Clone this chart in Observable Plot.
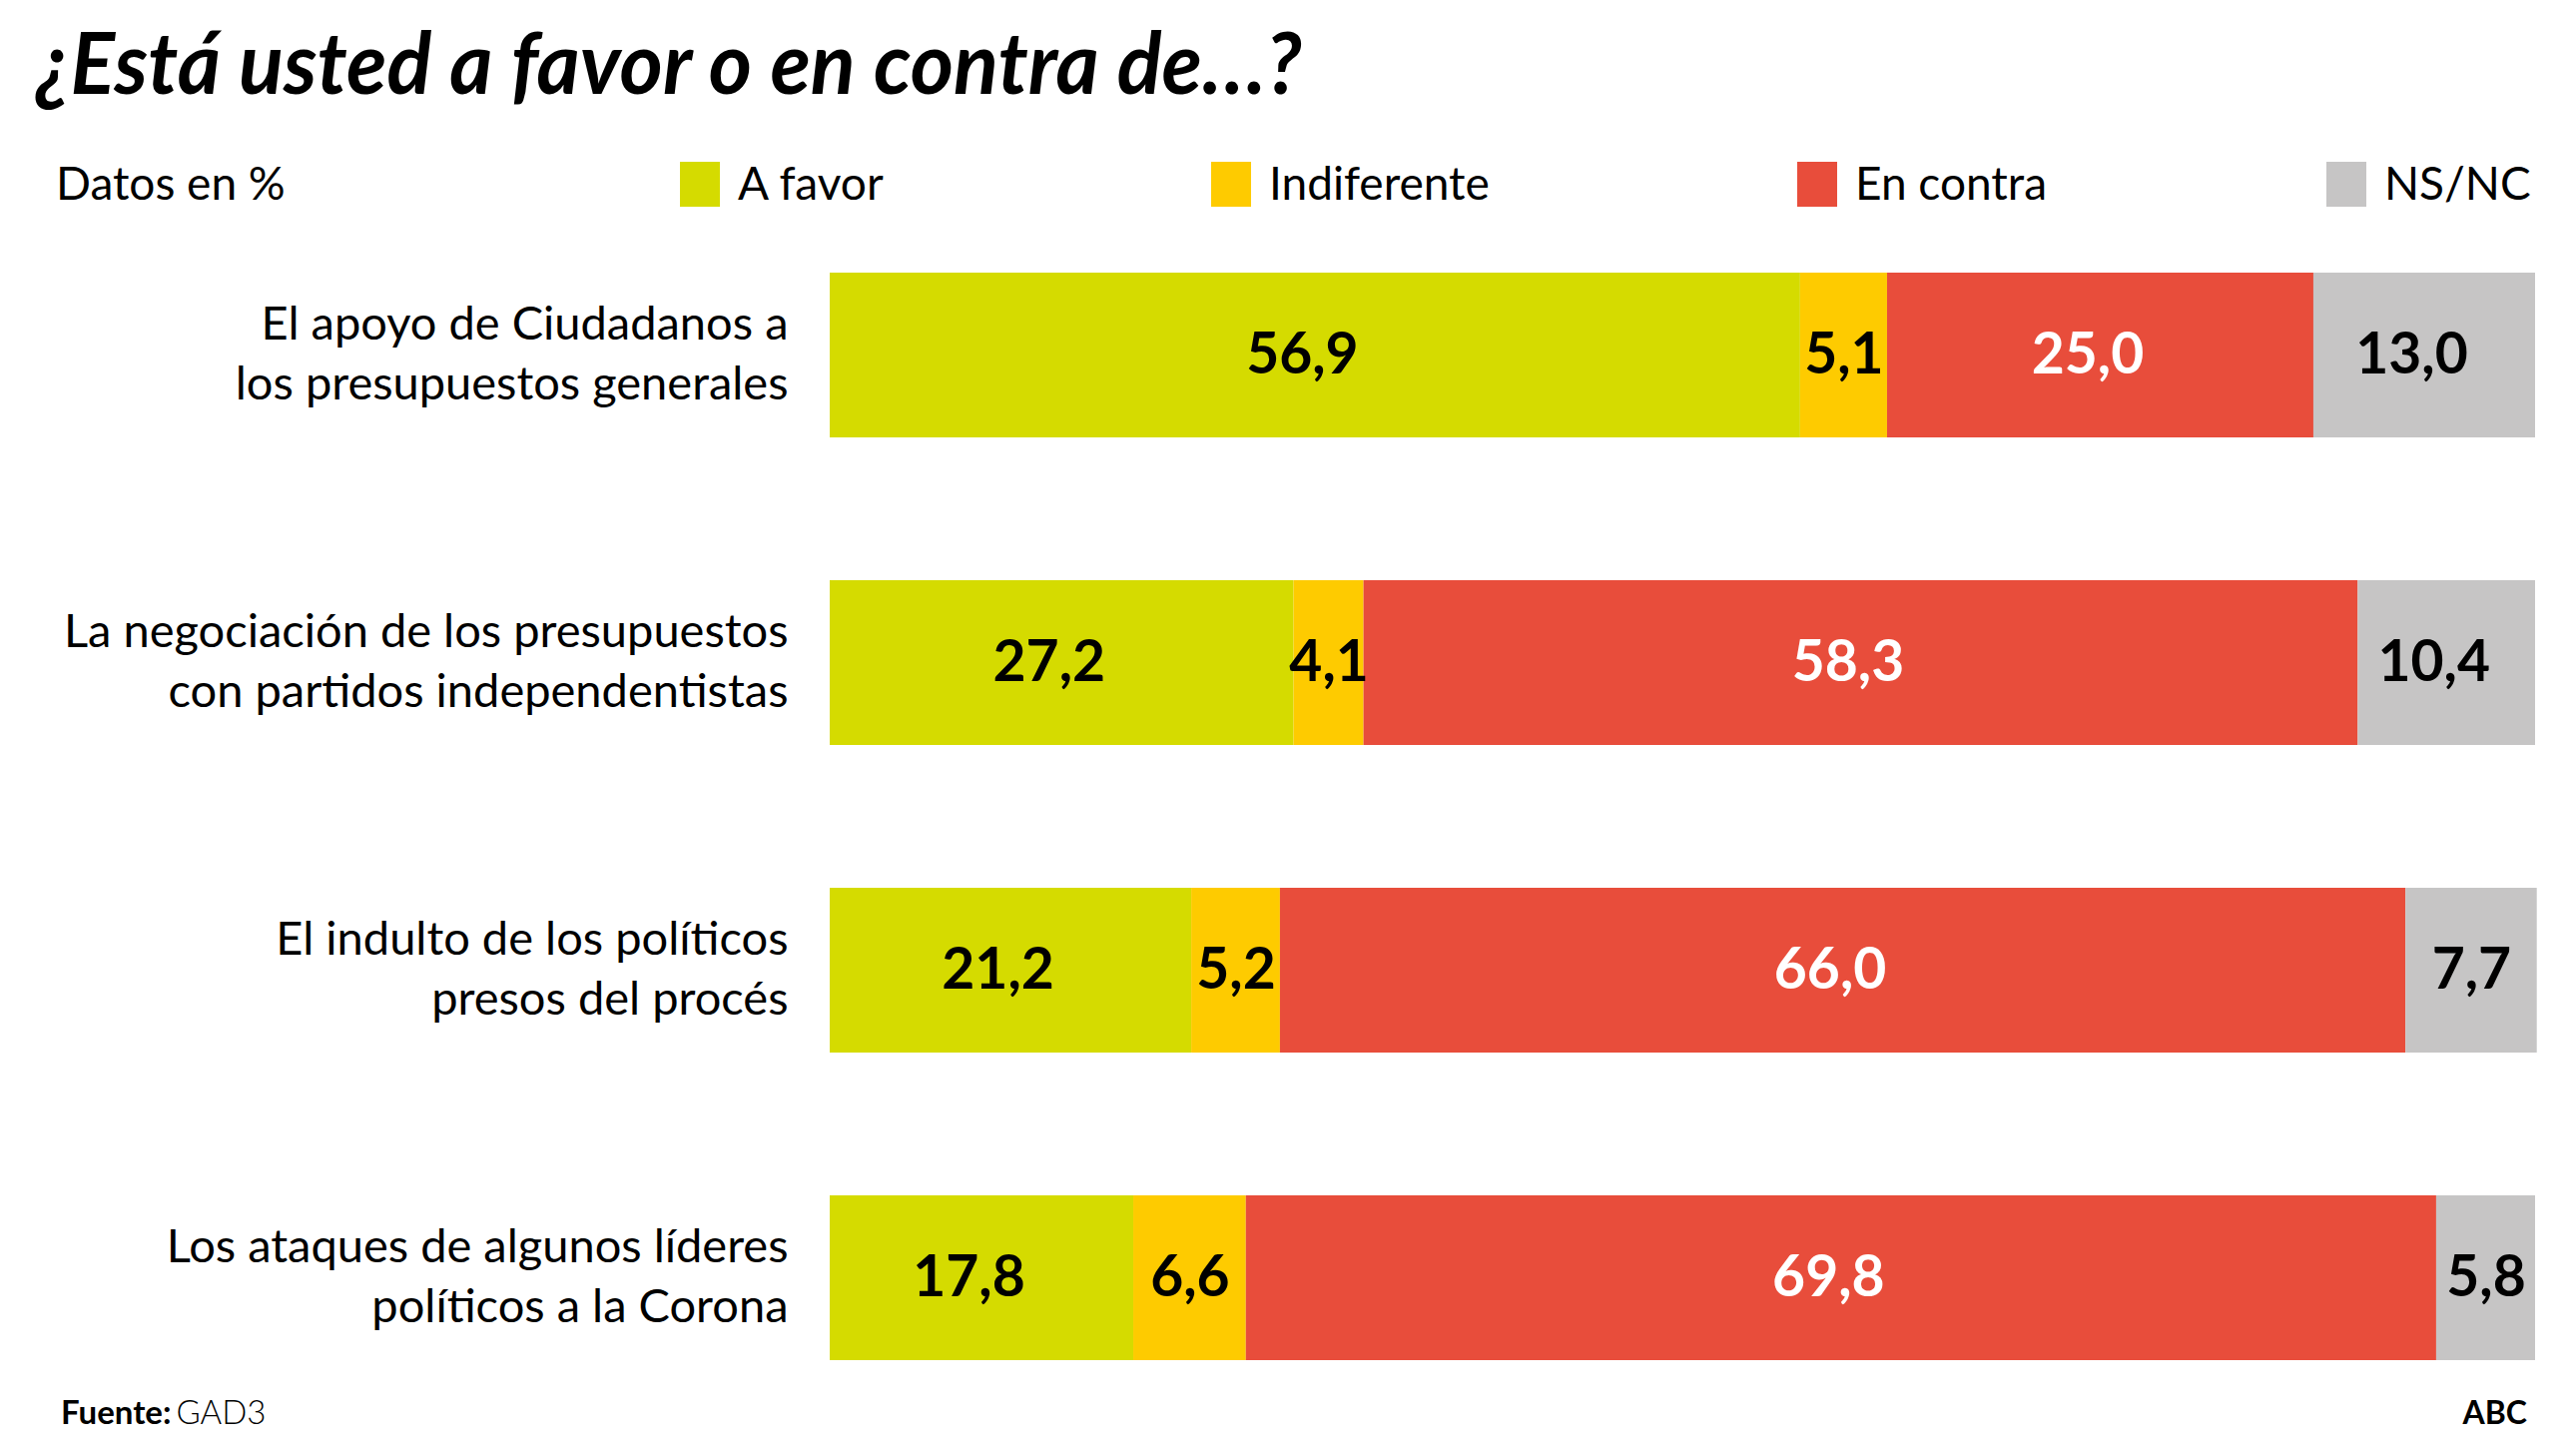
<!DOCTYPE html>
<html>
<head>
<meta charset="utf-8">
<script src="https://cdn.jsdelivr.net/npm/d3@7"></script>
<script src="https://cdn.jsdelivr.net/npm/@observablehq/plot@0.6"></script>
<style>
  html, body { margin: 0; padding: 0; background: #fff; }
  #root { width: 2580px; height: 1455px; overflow: hidden; background: #fff; }
  #root svg { display: block; }
</style>
</head>
<body>
<div id="root"></div>
<script>
// ---- data ----
const titleText = "¿Está usted a favor o en contra de…?";
const unitsText = "Datos en %";
const categories = [
  "El apoyo de Ciudadanos a\nlos presupuestos generales",
  "La negociación de los presupuestos\ncon partidos independentistas",
  "El indulto de los políticos\npresos del procés",
  "Los ataques de algunos líderes\npolíticos a la Corona"
];
const series = ["A favor", "Indiferente", "En contra", "NS/NC"];
const aFavor      = [56.9, 27.2, 21.2, 17.8];
const indiferente = [5.1, 4.1, 5.2, 6.6];
const enContra    = [25.0, 58.3, 66.0, 69.8];
const nsnc        = [13.0, 10.4, 7.7, 5.8];
const colors = ["#d5db00", "#fecb00", "#e84d3b", "#c6c5c5"];
const sourceLabel = "Fuente:";
const sourceText = "GAD3";
const brandText = "ABC";

const FONT = "Lato, 'Open Sans', sans-serif";

const seriesValues = [aFavor, indiferente, enContra, nsnc];
const data = categories.flatMap((c, i) =>
  series.map((s, j) => ({category: c, series: s, value: seriesValues[j][i]}))
);
const fmt = v => v.toFixed(1).replace(".", ",");

const root = d3.select("#root");

// ---- header: title + legend ----
const header = root.append("svg").attr("width", 2580).attr("height", 230);
const title = header.append("text")
  .attr("x", 0).attr("y", 0)
  .attr("font-family", FONT)
  .attr("font-style", "italic").attr("font-weight", "bold")
  .attr("font-size", 86).attr("fill", "#000")
  .text(titleText);
// condensed look: squeeze horizontally to the reference width
const tw = title.node().getComputedTextLength();
const sx = Math.min(1, 1268 / tw);
title.attr("transform", `translate(36,94) scale(${sx},1)`);

header.append("text")
  .attr("x", 56).attr("y", 200)
  .attr("font-family", FONT).attr("font-size", 46).attr("fill", "#000")
  .text(unitsText);
const legendX = [681, 1213, 1800, 2330];
series.forEach((s, j) => {
  header.append("rect")
    .attr("x", legendX[j]).attr("y", 162).attr("width", 40).attr("height", 45)
    .attr("fill", colors[j]);
  header.append("text")
    .attr("x", legendX[j] + 58).attr("y", 200)
    .attr("font-family", FONT).attr("font-size", 46).attr("fill", "#000")
    .text(s);
});

// ---- chart ----
// labels in wide segments sit slightly left of centre, as in the original
const labelShift = d => d.value >= 10 ? -13 : 0;
const chart = Plot.plot({
  width: 2580,
  height: 1160,
  marginLeft: 831,
  marginRight: 41,
  marginTop: 42,
  marginBottom: 28,
  style: {fontFamily: FONT, background: "#fff"},
  x: {domain: [0, 100], axis: null},
  y: {domain: categories, axis: null, paddingInner: 0.465, paddingOuter: 0},
  color: {domain: series, range: colors},
  marks: [
    Plot.barX(data, Plot.stackX({x: "value", y: "category", fill: "series"})),
    // narrow segments: centred labels
    Plot.text(data, Plot.stackX({
      x: "value", y: "category", z: "series",
      text: d => d.series !== "En contra" && d.value < 10 ? fmt(d.value) : null,
      fill: "#000", fontWeight: "bold", fontSize: 57
    })),
    // wide segments, dark text
    Plot.text(data, Plot.stackX({
      x: "value", y: "category", z: "series",
      text: d => d.series !== "En contra" && d.value >= 10 ? fmt(d.value) : null,
      fill: "#000", fontWeight: "bold", fontSize: 57, dx: -13
    })),
    // red segments, white text
    Plot.text(data, Plot.stackX({
      x: "value", y: "category", z: "series",
      text: d => d.series === "En contra" ? fmt(d.value) : null,
      fill: "#fff", fontWeight: "bold", fontSize: 57, dx: -13
    })),
    Plot.text(categories, {
      y: d => d, text: d => d,
      frameAnchor: "left", dx: -42, dy: -5, textAnchor: "end",
      fontSize: 47, lineHeight: 1.28, fill: "#000"
    })
  ]
});
root.node().appendChild(chart);

// ---- footer ----
const footer = root.append("svg").attr("width", 2580).attr("height", 65);
const src = footer.append("text")
  .attr("x", 61).attr("y", 36)
  .attr("font-family", FONT).attr("font-size", 33).attr("fill", "#000");
src.append("tspan").attr("font-weight", "bold").text(sourceLabel);
src.append("tspan").attr("font-weight", 300).attr("dx", 5).text(sourceText);
footer.append("text")
  .attr("x", 2531).attr("y", 36).attr("text-anchor", "end")
  .attr("font-family", FONT).attr("font-size", 32).attr("font-weight", "bold")
  .attr("fill", "#000")
  .text(brandText);
</script>
</body>
</html>
